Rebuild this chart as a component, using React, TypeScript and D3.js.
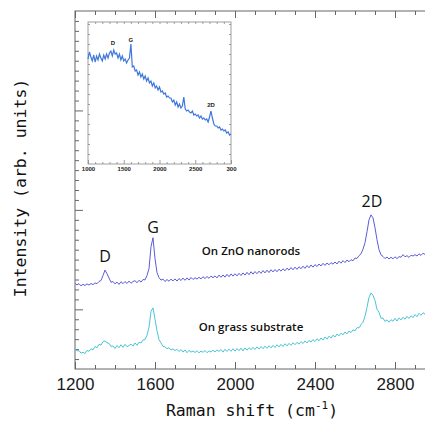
import React, { useEffect, useRef } from 'react';
import * as d3 from 'd3';

// main spectra, sampled every 10 cm-1 from 1200 to 3000
const SHIFT_START = 1200;
const SHIFT_STEP = 10;

const znoIntensity = [
  862, 845, 858, 836, 852, 840, 856, 844, 860, 848,
  866, 858, 880, 890, 940, 995, 958, 915, 872, 880,
  856, 874, 850, 878, 858, 880, 860, 884, 862, 880,
  888, 868, 892, 874, 900, 896, 940, 1010, 1230, 1320,
  1110, 970, 918, 894, 904, 880, 900, 882, 904, 886,
  906, 884, 910, 890, 914, 892, 916, 894, 920, 900,
  918, 904, 922, 906, 928, 910, 930, 912, 934, 918,
  936, 916, 944, 922, 946, 924, 952, 928, 956, 934,
  958, 936, 962, 940, 966, 944, 972, 948, 978, 954,
  980, 958, 984, 962, 990, 966, 994, 970, 998, 976,
  1000, 978, 1004, 984, 1008, 988, 1014, 994, 1020, 998,
  1024, 1002, 1028, 1008, 1034, 1012, 1040, 1018, 1046, 1024,
  1050, 1030, 1056, 1036, 1062, 1042, 1066, 1048, 1070, 1054,
  1076, 1056, 1084, 1064, 1090, 1070, 1096, 1078, 1100, 1088,
  1116, 1112, 1140, 1158, 1205, 1270, 1380, 1500, 1550, 1520,
  1420, 1300, 1200, 1148, 1132, 1110, 1126, 1106, 1124, 1108,
  1128, 1110, 1130, 1124, 1150, 1128, 1140, 1122, 1144, 1136,
  1150, 1136, 1158, 1142, 1164, 1152, 1168, 1156, 1176, 1162,
  1180,
];

const grassIntensity = [
  205, 182, 184, 160, 168, 155, 186, 178, 204, 192,
  226, 214, 248, 240, 276, 282, 264, 258, 226, 232,
  206, 236, 214, 244, 218, 248, 224, 236, 250, 230,
  262, 238, 270, 262, 292, 296, 340, 420, 580, 615,
  500, 385, 296, 262, 226, 224, 204, 214, 192, 202,
  186, 198, 176, 196, 170, 192, 164, 188, 170, 180,
  166, 184, 162, 180, 168, 186, 164, 182, 170, 190,
  172, 192, 176, 196, 170, 198, 176, 200, 178, 204,
  180, 206, 184, 210, 182, 212, 190, 214, 194, 218,
  196, 222, 200, 226, 204, 230, 208, 234, 212, 238,
  216, 244, 222, 248, 226, 254, 232, 258, 238, 264,
  244, 268, 250, 276, 256, 282, 262, 288, 270, 296,
  276, 304, 284, 312, 292, 322, 300, 330, 310, 340,
  322, 352, 334, 360, 344, 372, 354, 382, 366, 394,
  384, 416, 414, 446, 470, 530, 620, 720, 765, 740,
  690, 600, 570, 510, 512, 478, 494, 470, 496, 480,
  510, 482, 514, 494, 520, 500, 530, 508, 536, 516,
  548, 526, 560, 540, 566, 552, 580, 566, 596, 586,
  612,
];

// inset spectrum, sampled every 20 cm-1 from 1000 to 3000
const INSET_START = 1000;
const INSET_STEP = 20;
const insetIntensity = [
  105, 112, 107, 103, 109, 102, 108, 104, 110, 106,
  103, 109, 105, 110, 106, 111, 113, 108, 114, 110,
  111, 106, 110, 104, 108, 103, 105, 101, 104, 106,
  120, 97, 98, 93, 94, 89, 92, 87, 90, 85,
  88, 83, 86, 81, 83, 78, 81, 76, 78, 74,
  77, 72, 73, 70, 71, 67, 68, 66, 66, 62,
  64, 59, 62, 57, 60, 56, 58, 67, 55, 53,
  54, 52, 51, 53, 49, 50, 48, 49, 46, 48,
  45, 46, 44, 45, 42, 47, 53, 46, 40, 38,
  38, 36, 37, 34, 35, 33, 34, 31, 32, 29,
  30,
];

const xMajorTicks = [1200, 1600, 2000, 2400, 2800];
const xTickLabels = ['1200', '1600', '2000', '2400', '2800'];
const yMajorTicks = [600, 1600, 2600];
const insetMajorTicks = [1000, 1500, 2000, 2500, 3000];
const insetTickLabels = ['1000', '1500', '2000', '2500', '300'];

const App = () => {
  const svgRef = useRef<SVGSVGElement>(null);

  useEffect(() => {
    const svg = d3.select(svgRef.current);
    svg.selectAll('*').remove();

    const x = d3.scaleLinear().domain([1200, 3000]).range([75, 435]);
    const y = d3.scaleLinear().domain([0, 3600]).range([369, 11]);
    const frameColor = '#666';

    const toPoints = (vals: number[], start: number, step: number) =>
      vals.map((v, i) => [start + i * step, v] as [number, number]);

    // frame
    svg.append('rect')
      .attr('x', x(1200)).attr('y', y(3600))
      .attr('width', x(3000) - x(1200)).attr('height', y(0) - y(3600))
      .attr('fill', 'none').attr('stroke', frameColor).attr('stroke-width', 1);

    const xMinor = d3.range(1300, 3000, 100).filter(d => !xMajorTicks.includes(d));
    const yMinor = d3.range(100, 3600, 100).filter(d => !yMajorTicks.includes(d));

    const styleAxis = (g: any) => {
      g.select('.domain').remove();
      g.selectAll('line').attr('stroke', frameColor);
    };

    // bottom axis
    svg.append('g').attr('transform', `translate(0,${y(0)})`)
      .call(d3.axisBottom(x).tickValues(xMinor).tickSize(-4).tickFormat(() => ''))
      .call(styleAxis);
    svg.append('g').attr('transform', `translate(0,${y(0)})`)
      .call(d3.axisBottom(x).tickValues(xMajorTicks).tickSize(-7).tickPadding(9)
        .tickFormat((_, i) => xTickLabels[i]))
      .call(styleAxis)
      .call(g => g.selectAll('text')
        .attr('fill', '#1a1a1a')
        .style('font-family', '"Liberation Sans", Arial, sans-serif')
        .style('font-size', '17px'));

    // top axis
    svg.append('g').attr('transform', `translate(0,${y(3600)})`)
      .call(d3.axisTop(x).tickValues(xMinor).tickSize(-4).tickFormat(() => ''))
      .call(styleAxis);
    svg.append('g').attr('transform', `translate(0,${y(3600)})`)
      .call(d3.axisTop(x).tickValues(xMajorTicks).tickSize(-7).tickFormat(() => ''))
      .call(styleAxis);

    // left axis
    svg.append('g').attr('transform', `translate(${x(1200)},0)`)
      .call(d3.axisLeft(y).tickValues(yMinor).tickSize(-4).tickFormat(() => ''))
      .call(styleAxis);
    svg.append('g').attr('transform', `translate(${x(1200)},0)`)
      .call(d3.axisLeft(y).tickValues(yMajorTicks).tickSize(-8).tickFormat(() => ''))
      .call(styleAxis);

    // spectra
    const line = d3.line<[number, number]>().x(d => x(d[0])).y(d => y(d[1]));
    svg.append('path')
      .attr('d', line(toPoints(znoIntensity, SHIFT_START, SHIFT_STEP)))
      .attr('fill', 'none').attr('stroke', '#5c5cd8').attr('stroke-width', 1);
    svg.append('path')
      .attr('d', line(toPoints(grassIntensity, SHIFT_START, SHIFT_STEP)))
      .attr('fill', 'none').attr('stroke', '#4cc4d6').attr('stroke-width', 1);

    // peak labels and captions
    const label = (t: string, sx: number, v: number, size: number, weight = 400) =>
      svg.append('text')
        .attr('x', x(sx)).attr('y', y(v))
        .attr('text-anchor', 'middle')
        .style('font-family', '"Open Sans", sans-serif')
        .style('font-size', `${size}px`)
        .style('font-weight', weight)
        .attr('fill', '#111')
        .text(t);
    label('D', 1350, 1076, 16);
    label('G', 1590, 1368, 16);
    label('2D', 2685, 1629, 16);
    label('On ZnO nanorods', 2080, 1146, 11.5, 600);
    label('On grass substrate', 2080, 382, 11.5, 600);

    // axis titles
    svg.append('text')
      .attr('x', 252).attr('y', 416)
      .attr('text-anchor', 'middle')
      .style('font-family', '"DejaVu Sans Mono", monospace')
      .style('font-size', '16.5px')
      .attr('fill', '#111')
      .call(t => {
        t.append('tspan').text('Raman shift (cm');
        t.append('tspan').attr('dy', -7).style('font-size', '11px').text('-1');
        t.append('tspan').attr('dy', 7).text(')');
      });
    svg.append('text')
      .attr('transform', 'translate(26,188) rotate(-90)')
      .attr('text-anchor', 'middle')
      .style('font-family', '"DejaVu Sans Mono", monospace')
      .style('font-size', '16.5px')
      .attr('fill', '#111')
      .text('Intensity (arb. units)');

    // inset
    const ix = d3.scaleLinear().domain([1000, 3000]).range([88, 231]);
    const iy = d3.scaleLinear().domain([0, 142]).range([164, 22]);
    const insetColor = '#888';
    svg.append('rect')
      .attr('x', ix(1000)).attr('y', iy(142))
      .attr('width', ix(3000) - ix(1000)).attr('height', iy(0) - iy(142))
      .attr('fill', '#fff').attr('stroke', insetColor).attr('stroke-width', 0.8);

    const ixMinor = d3.range(1100, 3000, 100).filter(d => !insetMajorTicks.includes(d));
    const iyTicks = d3.range(10, 142, 10);
    const styleInset = (g: any) => {
      g.select('.domain').remove();
      g.selectAll('line').attr('stroke', insetColor).attr('stroke-width', 0.8);
    };
    svg.append('g').attr('transform', `translate(0,${iy(0)})`)
      .call(d3.axisBottom(ix).tickValues(ixMinor).tickSize(-2).tickFormat(() => ''))
      .call(styleInset);
    svg.append('g').attr('transform', `translate(0,${iy(0)})`)
      .call(d3.axisBottom(ix).tickValues(insetMajorTicks).tickSize(-4).tickPadding(3)
        .tickFormat((_, i) => insetTickLabels[i]))
      .call(styleInset)
      .call(g => g.selectAll('text')
        .attr('fill', '#222')
        .style('font-family', '"Liberation Sans", Arial, sans-serif')
        .style('font-size', '6px')
        .style('font-weight', 700));
    svg.append('g').attr('transform', `translate(0,${iy(142)})`)
      .call(d3.axisTop(ix).tickValues(d3.range(1100, 3000, 100)).tickSize(-2).tickFormat(() => ''))
      .call(styleInset);
    svg.append('g').attr('transform', `translate(${ix(1000)},0)`)
      .call(d3.axisLeft(iy).tickValues(iyTicks).tickSize(-2).tickFormat(() => ''))
      .call(styleInset);
    svg.append('g').attr('transform', `translate(${ix(3000)},0)`)
      .call(d3.axisRight(iy).tickValues(iyTicks).tickSize(-2).tickFormat(() => ''))
      .call(styleInset);

    const iline = d3.line<[number, number]>().x(d => ix(d[0])).y(d => iy(d[1]));
    svg.append('path')
      .attr('d', iline(toPoints(insetIntensity, INSET_START, INSET_STEP)))
      .attr('fill', 'none').attr('stroke', '#3f78dc').attr('stroke-width', 1.2);

    const ilabel = (t: string, sx: number, v: number) =>
      svg.append('text')
        .attr('x', ix(sx)).attr('y', iy(v))
        .attr('text-anchor', 'middle')
        .style('font-family', '"Liberation Sans", Arial, sans-serif')
        .style('font-size', '6px')
        .style('font-weight', 700)
        .attr('fill', '#222')
        .text(t);
    ilabel('D', 1350, 119);
    ilabel('G', 1600, 122);
    ilabel('2D', 2720, 57);
  }, []);

  return (
    <svg ref={svgRef} width={425} height={422}
      style={{ position: 'absolute', left: 0, top: 0, background: '#fff' }} />
  );
};

export default App;
